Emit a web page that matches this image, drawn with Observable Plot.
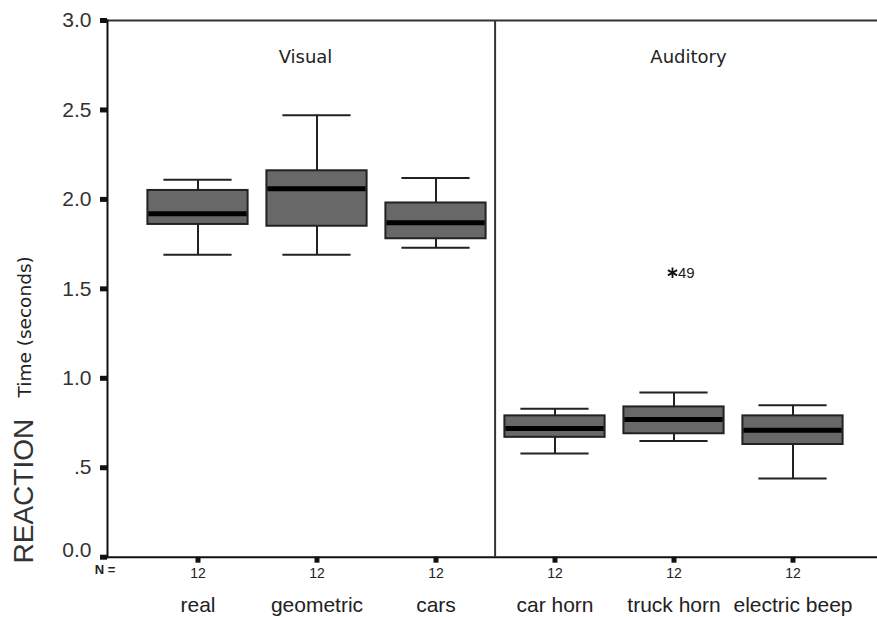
<!DOCTYPE html>
<html>
<head>
<meta charset="utf-8">
<script src="https://cdn.jsdelivr.net/npm/d3@7"></script>
<script src="https://cdn.jsdelivr.net/npm/@observablehq/plot@0.6"></script>
<style>
  html, body { margin: 0; padding: 0; background: #fff; }
</style>
</head>
<body>
<div id="chart"></div>
<script>
// ---- data ----
const categories   = ["real", "geometric", "cars", "car horn", "truck horn", "electric beep"];
const groups       = ["Visual", "Visual", "Visual", "Auditory", "Auditory", "Auditory"];
const counts       = [12, 12, 12, 12, 12, 12];
const whiskerLow   = [1.69, 1.69, 1.73, 0.58, 0.65, 0.44];
const quartile1    = [1.86, 1.85, 1.78, 0.67, 0.69, 0.63];
const medians      = [1.92, 2.06, 1.87, 0.72, 0.77, 0.71];
const quartile3    = [2.05, 2.16, 1.98, 0.79, 0.84, 0.79];
const whiskerHigh  = [2.11, 2.47, 2.12, 0.83, 0.92, 0.85];
const outlierCategories = ["truck horn"];
const outlierValues     = [1.59];
const outlierCases      = ["49"];
const yTicks       = [0, 0.5, 1, 1.5, 2, 2.5, 3];
const yTickLabels  = ["0.0", ".5", "1.0", "1.5", "2.0", "2.5", "3.0"];
const panelLabels  = ["Visual", "Auditory"];
const yTitleMain   = "REACTION";
const yTitleSub    = "Time (seconds)";
const countLabel   = "N =";

// ---- tables built from the arrays ----
const rows = categories.map((c, i) => ({
  category: c, group: groups[i], n: counts[i],
  lo: whiskerLow[i], q1: quartile1[i], med: medians[i], q3: quartile3[i], hi: whiskerHigh[i]
}));
const outliers = outlierCategories.map((c, i) => ({category: c, value: outlierValues[i], label: outlierCases[i]}));

// ---- layout ----
const W = 877, H = 617;
const mL = 107, mR = 0, mT = 20, mB = 60.3;
const insL = 28.6, insR = 22.6;
const step = (W - mL - mR - insL - insR) / categories.length;
const boxInset = 9.4, capInset = 25.4;
const sans = "'Liberation Sans', Arial, Helvetica, sans-serif";
const tahomaLike = "'DejaVu Sans', Verdana, sans-serif";
const ink = "#222";

const chart = Plot.plot({
  width: W, height: H,
  marginLeft: mL, marginRight: mR, marginTop: mT, marginBottom: mB,
  insetLeft: insL, insetRight: insR,
  style: {fontFamily: sans, color: ink, background: "#fff", overflow: "visible"},
  x: {type: "band", domain: categories, padding: 0, axis: null},
  y: {domain: [0, 3], axis: null},
  marks: [
    // frame lines
    Plot.ruleY([3], {stroke: "#333", strokeWidth: 2}),
    Plot.ruleY([0], {stroke: "#111", strokeWidth: 2}),
    Plot.frame({anchor: "left", stroke: "#111", strokeWidth: 2}),
    Plot.ruleX([categories[groups.indexOf("Auditory")]], {dx: -step / 2, stroke: "#333", strokeWidth: 2}),

    // whiskers
    Plot.ruleX(rows, {x: "category", y1: "q3", y2: "hi", stroke: ink, strokeWidth: 2}),
    Plot.ruleX(rows, {x: "category", y1: "lo", y2: "q1", stroke: ink, strokeWidth: 2}),
    Plot.tickY(rows, {x: "category", y: "hi", insetLeft: capInset, insetRight: capInset, stroke: ink, strokeWidth: 2}),
    Plot.tickY(rows, {x: "category", y: "lo", insetLeft: capInset, insetRight: capInset, stroke: ink, strokeWidth: 2}),

    // boxes and medians
    Plot.barY(rows, {x: "category", y1: "q1", y2: "q3", insetLeft: boxInset, insetRight: boxInset,
      fill: "#686868", stroke: ink, strokeWidth: 2}),
    Plot.tickY(rows, {x: "category", y: "med", insetLeft: boxInset + 1, insetRight: boxInset + 1,
      stroke: "#000", strokeWidth: 5}),

    // outlier
    Plot.dot(outliers, {x: "category", y: "value", symbol: "asterisk", r: 5, stroke: "#111", strokeWidth: 1.8, dx: -1.5}),
    Plot.text(outliers, {x: "category", y: "value", text: "label", textAnchor: "start", dx: 4, fontSize: 15, fill: ink}),

    // y axis
    Plot.axisY(yTicks, {
      tickFormat: d => d === 0 ? "" : yTickLabels[yTicks.indexOf(d)],
      tickSize: 7, tickPadding: 9, strokeWidth: 5, stroke: "#111",
      fontSize: 21, fill: "#333", label: null
    }),
    Plot.text([yTicks[0]], {y: d => d, text: () => yTickLabels[0], frameAnchor: "left",
      textAnchor: "end", dx: -16, dy: -7, fontSize: 21, fill: "#333"}),

    // x axis: counts row and category names
    Plot.axisX({
      tickFormat: d => String(counts[categories.indexOf(d)]),
      tickSize: 6, tickPadding: 5, strokeWidth: 5, stroke: "#111",
      fontSize: 14, fill: ink, label: null
    }),
    Plot.axisX({tickSize: 0, tickPadding: 40, fontSize: 21, fill: ink, label: null}),
    Plot.text([countLabel], {frameAnchor: "bottom-left", dx: -2.5, dy: 16.5, fontSize: 13,
      fontWeight: "bold", fill: ink, textAnchor: "middle"}),

    // panel labels
    Plot.text([panelLabels[0]], {x: () => categories[1], frameAnchor: "top", dx: -11.5, dy: 30,
      fontFamily: tahomaLike, fontSize: 18, fill: ink}),
    Plot.text([panelLabels[1]], {x: () => categories[4], frameAnchor: "top", dx: 14.5, dy: 30,
      fontFamily: tahomaLike, fontSize: 18, fill: ink}),

    // y title
    Plot.text([yTitleMain], {frameAnchor: "left", rotate: -90, textAnchor: "start",
      dx: -83, dy: 274.6, fontSize: 28, fill: "#333"}),
    Plot.text([yTitleSub], {frameAnchor: "left", rotate: -90, textAnchor: "start",
      dx: -82, dy: 108.6, fontFamily: tahomaLike, fontSize: 18.5, fill: ink})
  ]
});
document.getElementById("chart").appendChild(chart);
</script>
</body>
</html>
